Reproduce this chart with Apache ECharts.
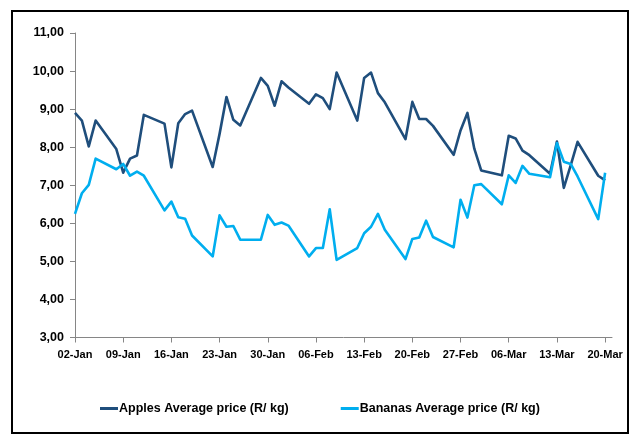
<!DOCTYPE html>
<html>
<head>
<meta charset="utf-8">
<script src="https://cdn.jsdelivr.net/npm/echarts@6/dist/echarts.min.js"></script>
<style>
  html, body { margin: 0; padding: 0; background: #fff; }
  #chart { width: 632px; height: 434px; }
</style>
</head>
<body>
<div id="chart"></div>
<script>
// Trading days, 2018 (month-day)
const dates = [
  '01-02','01-03','01-04','01-05',
  '01-08','01-09','01-10','01-11','01-12',
  '01-15','01-16','01-17','01-18','01-19',
  '01-22','01-23','01-24','01-25','01-26',
  '01-29','01-30','01-31','02-01','02-02',
  '02-05','02-06','02-07','02-08','02-09',
  '02-12','02-13','02-14','02-15','02-16',
  '02-19','02-20','02-21','02-22','02-23',
  '02-26','02-27','02-28','03-01','03-02',
  '03-05','03-06','03-07','03-08','03-09',
  '03-12','03-13','03-14','03-15','03-16',
  '03-19','03-20'
];

// Average price, R/kg
const apples = [
  8.90, 8.70, 8.02, 8.70,
  7.95, 7.33, 7.70, 7.78, 8.85,
  8.62, 7.47, 8.63, 8.87, 8.96,
  7.48, 8.35, 9.32, 8.72, 8.57,
  9.82, 9.61, 9.09, 9.73, 9.57,
  9.14, 9.39, 9.29, 9.00, 9.96,
  8.70, 9.82, 9.96, 9.42, 9.18,
  8.21, 9.19, 8.74, 8.74, 8.56,
  7.80, 8.44, 8.90, 7.96, 7.39,
  7.26, 8.30, 8.23, 7.91, 7.79,
  7.30, 8.15, 6.93, 7.52, 8.14,
  7.25, 7.13
];

const bananas = [
  6.25, 6.79, 7.01, 7.70,
  7.42, 7.56, 7.25, 7.36, 7.25,
  6.34, 6.57, 6.16, 6.12, 5.68,
  5.13, 6.21, 5.91, 5.93, 5.57,
  5.57, 6.22, 5.96, 6.02, 5.94,
  5.13, 5.35, 5.35, 6.37, 5.04,
  5.35, 5.74, 5.91, 6.25, 5.83,
  5.06, 5.59, 5.63, 6.07, 5.64,
  5.37, 6.62, 6.15, 7.00, 7.03,
  6.50, 7.26, 7.06, 7.51, 7.30,
  7.21, 8.11, 7.62, 7.56, 7.23,
  6.11, 7.33
];

// Weekly date ticks along the x axis
const tickLabels = [
  '02-Jan','09-Jan','16-Jan','23-Jan','30-Jan','06-Feb',
  '13-Feb','20-Feb','27-Feb','06-Mar','13-Mar','20-Mar'
];

const seriesNames = ['Apples Average price (R/ kg)', 'Bananas Average price (R/ kg)'];

// Day offset from the first date, used as the x value
const start = Date.UTC(2018, 0, 2);
function dayOffset(md) {
  const [m, d] = md.split('-').map(Number);
  return Math.round((Date.UTC(2018, m - 1, d) - start) / 86400000);
}
const xs = dates.map(dayOffset);
const pairs = vals => vals.map((v, i) => [xs[i], v]);
const tickDays = tickLabels.map((_, i) => i * 7);

const FONT = '"Liberation Sans", Arial, sans-serif';
const AXIS_GREY = '#868686';

const chart = echarts.init(document.getElementById('chart'), null, { renderer: 'canvas' });
chart.setOption({
  animation: false,
  backgroundColor: '#ffffff',
  grid: {
    left: 75, top: 33, width: 537, height: 304.5,
    containLabel: false, outerBoundsMode: 'none'
  },
  graphic: [{
    type: 'rect',
    shape: { x: 12, y: 11, width: 616, height: 422 },
    style: { fill: 'none', stroke: '#000', lineWidth: 2 },
    silent: true, z: 100
  }],
  legend: {
    left: 100, top: 402, padding: 0,
    icon: 'rect', itemWidth: 18, itemHeight: 3, itemGap: 52,
    textStyle: { fontFamily: FONT, fontSize: 12.5, fontWeight: 'bold', color: '#000', padding: [0, 0, 0, -4] },
    data: seriesNames
  },
  xAxis: {
    type: 'value', min: 0, max: 78, interval: 7,
    splitLine: { show: false },
    axisLine: { lineStyle: { color: AXIS_GREY, width: 1 } },
    axisTick: { show: true, inside: false, length: 5, customValues: tickDays, lineStyle: { color: AXIS_GREY } },
    axisLabel: {
      customValues: tickDays,
      margin: 12,
      fontFamily: FONT, fontSize: 11, fontWeight: 'bold', color: '#000',
      formatter: v => tickLabels[Math.round(v / 7)] || ''
    }
  },
  yAxis: {
    type: 'value', min: 3, max: 11, interval: 1,
    splitLine: { show: false },
    axisLine: { show: true, lineStyle: { color: AXIS_GREY, width: 1 } },
    axisTick: { show: true, inside: false, length: 5, lineStyle: { color: AXIS_GREY } },
    axisLabel: {
      margin: 11,
      fontFamily: FONT, fontSize: 12.5, fontWeight: 'bold', color: '#000',
      formatter: v => v.toFixed(2).replace('.', ',')
    }
  },
  series: [
    {
      name: seriesNames[0], type: 'line', data: pairs(apples),
      showSymbol: false, symbol: 'none',
      color: '#1F4E7C',
      lineStyle: { width: 2.6, color: '#1F4E7C', join: 'round' }
    },
    {
      name: seriesNames[1], type: 'line', data: pairs(bananas),
      showSymbol: false, symbol: 'none',
      color: '#00AEEF',
      lineStyle: { width: 2.6, color: '#00AEEF', join: 'round' }
    }
  ]
});
</script>
</body>
</html>
